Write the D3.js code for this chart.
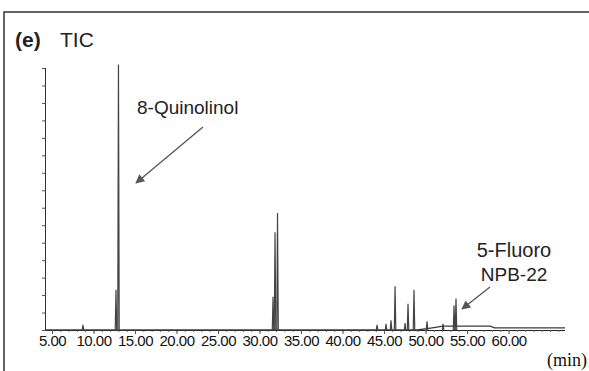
<!DOCTYPE html>
<html lang="en">
<head>
  <meta charset="UTF-8">
  <script src="https://cdn.jsdelivr.net/npm/d3@7"></script>
  <title>TIC</title>
  <style>
    body { margin: 0; background: #fff; }
    text { font-family: "Liberation Sans", Arial, sans-serif; }
  </style>
</head>
<body>
  <svg width="589" height="371" id="chart"></svg>
  <script>
    // retention time (min) and height of each peak
    let peakTimes   = [8.73, 12.71, 13.01, 31.63, 31.87, 32.17, 44.16, 45.24, 45.84, 46.33, 47.53, 47.89, 48.61, 50.18, 52.11, 53.43, 53.67];
    let peakHeights = [0.3, 2.3, 15.2, 1.9, 5.6, 6.7, 0.3, 0.35, 0.55, 2.5, 0.4, 1.5, 2.3, 0.5, 0.35, 1.4, 1.8];
    // slow drift of the baseline at the end of the run
    let baseTimes  = [4.16, 49.0, 50.2, 51.2, 52.1, 57.8, 58.3, 66.8];
    let baseValues = [0, 0, 0.08, 0.15, 0.22, 0.22, 0.12, 0.12];
    let xTicks = [5, 10, 15, 20, 25, 30, 35, 40, 45, 50, 55, 60];
    let xTickLabels = ["5.00", "10.00", "15.00", "20.00", "25.00", "30.00", "35.00", "40.00", "45.00", "50.00", "55.00", "60.00"];
    let yTicks = [0, 1, 2, 3, 4, 5, 6, 7, 8, 9, 10, 11, 12, 13, 14, 15];

    let svg = d3.select("#chart");

    // outer frame (right and bottom edges fall outside the picture)
    svg.append("rect")
      .attr("x", 4).attr("y", 12)
      .attr("width", 700).attr("height", 500)
      .attr("fill", "none").attr("stroke", "#333").attr("stroke-width", 1.5)

    /* SCALES */
    let scaleX = d3.scaleLinear().domain([4.16, 66.8]).range([45, 565]);
    let scaleY = d3.scaleLinear().domain([0, 15]).range([330, 68]);

    /* AXES */
    let axisX = d3.axisBottom(scaleX)
      .tickValues(xTicks)
      .tickSize(4)
      .tickFormat((d, i) => xTickLabels[i])
    let gx = svg.append("g").attr("transform", "translate(0,330)").call(axisX)
    gx.select(".domain").attr("stroke", "#222").attr("d", "M45,0.5H565")
    gx.selectAll(".tick line").attr("stroke", "#555")
    gx.selectAll(".tick text")
      .attr("y", 5)
      .attr("fill", "#111")
      .style("font-size", "15px")
      .style("letter-spacing", "-0.5px")

    // minor ticks every minute
    let minorX = d3.axisBottom(scaleX).tickValues(d3.range(5, 67)).tickSize(2).tickFormat("")
    svg.append("g").attr("transform", "translate(0,330)").call(minorX)
      .call(g => g.select(".domain").remove())
      .selectAll("line").attr("stroke", "#666")

    let axisY = d3.axisLeft(scaleY).tickValues(yTicks).tickSize(3).tickFormat("")
    let gy = svg.append("g").attr("transform", "translate(45,0)").call(axisY)
    gy.select(".domain").attr("stroke", "#333").attr("d", "M0.5,68V330")
    gy.selectAll(".tick line").attr("stroke", "#555")

    /* TRACE */
    let baseline = baseTimes.map((t, i) => [t, baseValues[i]]);
    let line = d3.line().x(d => scaleX(d[0])).y(d => scaleY(d[1]));

    svg.append("path")
      .datum(baseline)
      .attr("d", line)
      .attr("fill", "none").attr("stroke", "#3a3a3a").attr("stroke-width", 1.3)

    svg.selectAll("path.peak")
      .data(peakTimes.map((t, i) => ({ t: t, h: peakHeights[i] })))
      .enter()
      .append("path")
      .attr("class", "peak")
      .attr("d", d => line([[d.t - 0.09, 0], [d.t, d.h], [d.t + 0.09, 0]]))
      .attr("fill", "none").attr("stroke", "#444").attr("stroke-width", 1.2)

    /* LABELS */
    svg.append("text").text("(e)").attr("x", 15).attr("y", 47)
      .style("font-size", "21px").style("font-weight", "bold").attr("fill", "#222")
    svg.append("text").text("TIC").attr("x", 60).attr("y", 47)
      .style("font-size", "21px").attr("fill", "#222")

    svg.append("text").text("8-Quinolinol").attr("x", 137).attr("y", 114)
      .style("font-size", "19px").attr("fill", "#222")
    svg.append("text").text("5-Fluoro").attr("x", 514).attr("y", 257)
      .attr("text-anchor", "middle").style("font-size", "20px").attr("fill", "#222")
    svg.append("text").text("NPB-22").attr("x", 514).attr("y", 281)
      .attr("text-anchor", "middle").style("font-size", "19px").attr("fill", "#222")

    svg.append("text").text("(min)").attr("x", 587).attr("y", 366)
      .attr("text-anchor", "end")
      .style("font-family", "'Liberation Serif', 'Times New Roman', serif")
      .style("font-size", "18px").attr("fill", "#111")

    // arrows
    let defs = svg.append("defs")
    defs.append("marker")
      .attr("id", "head")
      .attr("viewBox", "0 0 10 10")
      .attr("refX", 9).attr("refY", 5)
      .attr("markerWidth", 12).attr("markerHeight", 9)
      .attr("markerUnits", "userSpaceOnUse")
      .attr("orient", "auto")
      .append("path").attr("d", "M0,0L10,5L0,10z").attr("fill", "#555")

    function arrow(x1, y1, x2, y2) {
      svg.append("line")
        .attr("x1", x1).attr("y1", y1).attr("x2", x2).attr("y2", y2)
        .attr("stroke", "#555").attr("stroke-width", 1.3)
        .attr("marker-end", "url(#head)")
    }
    arrow(203, 127, 136, 183)
    arrow(490, 287, 462, 309)
  </script>
</body>
</html>
